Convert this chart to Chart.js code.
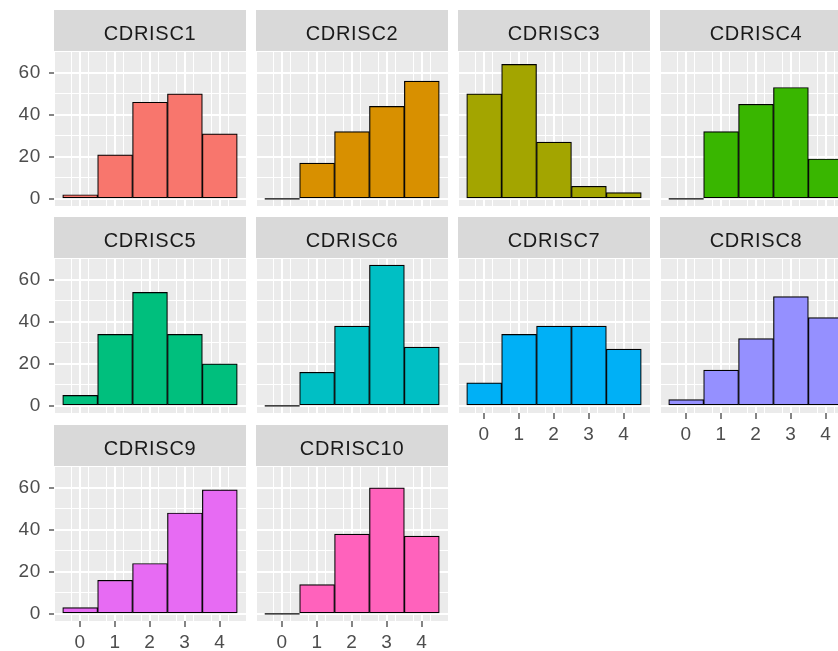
<!DOCTYPE html>
<html>
<head>
<meta charset="utf-8">
<script src="https://cdn.jsdelivr.net/npm/chart.js@4.4.1/dist/chart.umd.min.js"></script>
<style>
  html, body { margin: 0; padding: 0; background: #ffffff; overflow: hidden; }
  #facets { position: relative; width: 838px; height: 651px; overflow: hidden; }
  #facets canvas { position: absolute; }
</style>
</head>
<body>
<div id="facets"></div>
<script>
// Response level of each item (the binned x axis of every histogram)
const scoreLevels = [0, 1, 2, 3, 4];
const xTickLabels = ['0', '1', '2', '3', '4'];
const yTickLabels = ['0', '20', '40', '60'];

// One facet per item
const itemNames = ['CDRISC1', 'CDRISC2', 'CDRISC3', 'CDRISC4', 'CDRISC5',
                   'CDRISC6', 'CDRISC7', 'CDRISC8', 'CDRISC9', 'CDRISC10'];

// Number of respondents at each response level
const cdrisc1  = [2, 21, 46, 50, 31];
const cdrisc2  = [0, 17, 32, 44, 56];
const cdrisc3  = [50, 64, 27, 6, 3];
const cdrisc4  = [0, 32, 45, 53, 19];
const cdrisc5  = [5, 34, 54, 34, 20];
const cdrisc6  = [0, 16, 38, 67, 28];
const cdrisc7  = [11, 34, 38, 38, 27];
const cdrisc8  = [3, 17, 32, 52, 42];
const cdrisc9  = [3, 16, 24, 48, 59];
const cdrisc10 = [0, 14, 38, 60, 37];

const itemCounts = [cdrisc1, cdrisc2, cdrisc3, cdrisc4, cdrisc5,
                    cdrisc6, cdrisc7, cdrisc8, cdrisc9, cdrisc10];

// Default hue palette, one colour per item
const itemColors = ['#F8766D', '#D89000', '#A3A500', '#39B600', '#00BF7D',
                    '#00BFC4', '#00B0F6', '#9590FF', '#E76BF3', '#FF62BC'];

// Facet grid geometry
const NCOL = 4;
const colLeft = [54, 256, 458, 660];
const rowTop = [10, 217, 425];
const STRIP_H = 41, PANEL_W = 188, PANEL_H = 155;
const AXIS_W = 54, AXIS_H = 45, RIGHT_PAD = 4;

const FONT = "'Liberation Sans', Arial, Helvetica, sans-serif";
const PANEL_BG = '#EBEBEB';
const STRIP_BG = '#D9D9D9';
const GRID = '#FFFFFF';
const TICK_COL = '#333333';
const LABEL_COL = '#4D4D4D';

// Shared scales: bins of width 1 centred on each level, 5% expansion
const binLo = scoreLevels[0] - 0.5, binHi = scoreLevels[scoreLevels.length - 1] + 0.5;
const xMin = binLo - 0.05 * (binHi - binLo), xMax = binHi + 0.05 * (binHi - binLo);
const countMax = Math.max(...itemCounts.flat());
const yMin = -0.05 * countMax, yMax = 1.05 * countMax;

const isMajorX = v => scoreLevels.includes(v);
const isMajorY = v => yTickLabels.includes(String(v));

// Grey panel and strip backgrounds; slightly tracked lettering
const facetBackground = {
  id: 'facetBackground',
  beforeDraw(chart) {
    const ctx = chart.ctx, a = chart.chartArea, t = chart.titleBlock;
    ctx.fillStyle = PANEL_BG;
    ctx.fillRect(a.left, a.top, a.right - a.left, a.bottom - a.top);
    if (t) {
      ctx.fillStyle = STRIP_BG;
      ctx.fillRect(t.left, t.top, t.width, t.height);
    }
    ctx.letterSpacing = '0.7px';
  },
  afterDraw(chart) {
    chart.ctx.letterSpacing = '0px';
  }
};

// Empty bins keep their outline as a flat line on the baseline
const emptyBinOutline = {
  id: 'emptyBinOutline',
  afterDatasetsDraw(chart) {
    const ctx = chart.ctx;
    const meta = chart.getDatasetMeta(0);
    const values = chart.data.datasets[0].data;
    ctx.save();
    ctx.strokeStyle = '#000000';
    ctx.lineWidth = 1.3;
    meta.data.forEach((bar, k) => {
      if (values[k].y !== 0) return;
      const p = bar.getProps(['x', 'width', 'base'], true);
      ctx.beginPath();
      ctx.moveTo(p.x - p.width / 2, p.base);
      ctx.lineTo(p.x + p.width / 2, p.base);
      ctx.stroke();
    });
    ctx.restore();
  }
};

const holder = document.getElementById('facets');

itemNames.forEach((name, i) => {
  const row = Math.floor(i / NCOL), col = i % NCOL;
  const showY = col === 0;
  // x labels under the lowest panel of each column
  const showX = (i + NCOL) >= itemNames.length;

  const canvas = document.createElement('canvas');
  const w = AXIS_W + PANEL_W + RIGHT_PAD, h = STRIP_H + PANEL_H + AXIS_H;
  canvas.width = w; canvas.height = h;
  canvas.style.width = w + 'px'; canvas.style.height = h + 'px';
  canvas.style.left = (colLeft[col] - AXIS_W) + 'px';
  canvas.style.top = rowTop[row] + 'px';
  holder.appendChild(canvas);

  const counts = itemCounts[i];

  new Chart(canvas, {
    type: 'bar',
    data: {
      datasets: [{
        data: scoreLevels.map((lv, k) => ({ x: lv, y: counts[k] })),
        backgroundColor: itemColors[i],
        borderColor: '#000000',
        borderWidth: 1.2,
        borderSkipped: false,
        barPercentage: 1,
        categoryPercentage: 1
      }]
    },
    options: {
      responsive: false,
      animation: false,
      devicePixelRatio: 1,
      layout: { padding: 0 },
      events: [],
      plugins: {
        legend: { display: false },
        tooltip: { enabled: false },
        title: {
          display: true,
          text: name,
          fullSize: false,
          color: '#1A1A1A',
          font: { family: FONT, size: 20, weight: 'normal', lineHeight: '34px' },
          padding: { top: 7, bottom: 0 }
        }
      },
      scales: {
        x: {
          type: 'linear',
          position: 'bottom',
          min: xMin, max: xMax,
          offset: false,
          border: { display: false },
          grid: {
            offset: false,
            color: GRID,
            lineWidth: 2,
            drawTicks: true,
            tickLength: 6,
            tickWidth: 1.2,
            tickColor: showX ? TICK_COL : 'rgba(0,0,0,0)'
          },
          ticks: {
            display: showX,
            stepSize: 1,
            includeBounds: false,
            autoSkip: false,
            maxRotation: 0,
            padding: 4,
            color: LABEL_COL,
            font: { family: FONT, size: 19 },
            callback: v => { const k = scoreLevels.indexOf(v); return k >= 0 ? xTickLabels[k] : ''; }
          },
          afterFit: s => { s.height = AXIS_H; }
        },
        xMinor: {
          type: 'linear',
          position: 'bottom',
          min: xMin, max: xMax,
          offset: false,
          border: { display: false },
          grid: {
            offset: false,
            color: GRID,
            drawTicks: false,
            lineWidth: c => (c.tick && isMajorX(c.tick.value)) ? 0 : 1
          },
          ticks: { display: false, stepSize: 0.5, includeBounds: false, autoSkip: false },
          afterFit: s => { s.height = 0; }
        },
        y: {
          type: 'linear',
          min: yMin, max: yMax,
          border: { display: false },
          grid: {
            color: GRID,
            lineWidth: c => (c.tick && isMajorY(c.tick.value)) ? 2 : 1,
            drawTicks: true,
            tickLength: 5,
            tickWidth: 1.2,
            tickColor: c => (showY && c.tick && isMajorY(c.tick.value)) ? TICK_COL : 'rgba(0,0,0,0)'
          },
          ticks: {
            display: showY,
            stepSize: 10,
            includeBounds: false,
            autoSkip: false,
            padding: 8,
            color: LABEL_COL,
            font: { family: FONT, size: 19 },
            callback: v => isMajorY(v) ? String(v) : ''
          },
          afterFit: s => { s.width = AXIS_W; }
        }
      }
    },
    plugins: [facetBackground, emptyBinOutline]
  });
});
</script>
</body>
</html>
